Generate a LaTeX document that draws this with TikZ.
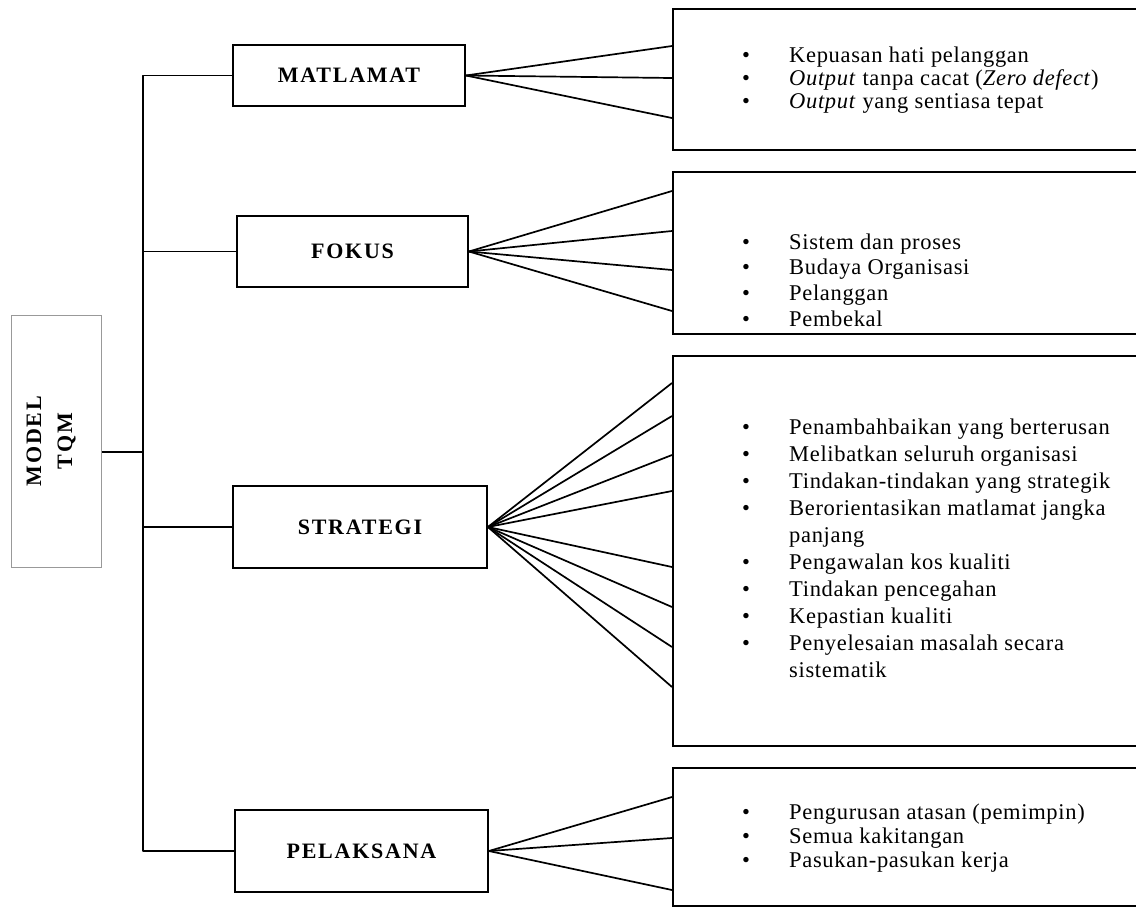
\documentclass[tikz,border=0pt]{standalone}
\usepackage{fontspec}
\setmainfont{Liberation Serif}
\newfontfamily\bodyfont[LetterSpace=3]{Liberation Serif}
\newfontfamily\labfont[LetterSpace=8]{Liberation Serif}
\newcommand\bul{\makebox[47pt][l]{\textbullet}}
\begin{document}
\begin{tikzpicture}[x=1pt,y=-1pt,
  lab/.style={draw=black, line width=1.8pt, inner sep=0pt, font=\labfont\bfseries\fontsize{22}{26}\selectfont},
  rbox/.style={draw=black, line width=1.8pt, inner sep=0pt},
  txt/.style={anchor=base west, inner sep=0pt, align=left},
  ln/.style={line width=1.7pt, line join=round}]
\useasboundingbox (0,0) rectangle (1136,906);
\clip (0,0) rectangle (1136,906);
\fill[white] (0,0) rectangle (1136,906);

% central box
\node[draw=gray!80, line width=1pt, minimum width=90pt, minimum height=252pt, inner sep=0pt] (model) at (56,441) {};
\node[rotate=90, align=center, inner sep=0pt, font=\labfont\bfseries\fontsize{22}{31}\selectfont] (modellab) at (51,441) {MODEL\\TQM};

% category boxes
\node[lab, minimum width=232pt, minimum height=61pt] (mat) at (349,75.5) {MATLAMAT};
\node[lab, minimum width=231pt, minimum height=71pt] (fok) at (352.5,251.5) {FOKUS};
\node[lab, minimum width=254pt, minimum height=82pt] (str) at (360,527) {STRATEGI};
\node[lab, minimum width=253pt, minimum height=82pt] (pel) at (361.5,851) {PELAKSANA};

% right boxes
\node[rbox, anchor=north west, minimum width=470pt, minimum height=141pt] (r1) at (672,8) {};
\node[rbox, anchor=north west, minimum width=470pt, minimum height=162pt] (r2) at (672,171) {};
\node[rbox, anchor=north west, minimum width=470pt, minimum height=390pt] (r3) at (672,355) {};
\node[rbox, anchor=north west, minimum width=470pt, minimum height=138pt] (r4) at (672,767) {};

% trunk
\coordinate (ttop) at (143,75.5);
\coordinate (tbot) at (143,851);
\coordinate (mj) at (143,452);
\draw[ln] (mat.west) -- (ttop) -- (tbot) -- (pel.west);
\draw[ln] (fok.west) -- (fok.west -| ttop);
\draw[ln] (str.west) -- (str.west -| ttop);
\draw[ln] (mj -| model.east) -- (mj);

% fans
\foreach \y [count=\i] in {46,78,118} {\coordinate (a\i) at (672,\y); \draw[ln] (mat.east) -- (a\i);}
\foreach \y [count=\i] in {191,231,270,311} {\coordinate (b\i) at (672,\y); \draw[ln] (fok.east) -- (b\i);}
\foreach \y [count=\i] in {383,416,455,491,567,607,647,687} {\coordinate (c\i) at (672,\y); \draw[ln] (str.east) -- (c\i);}
\foreach \y [count=\i] in {797,838,890} {\coordinate (d\i) at (672,\y); \draw[ln] (pel.east) -- (d\i);}

% texts
\node[txt] (t1) at (742,62) {\bodyfont\fontsize{22.5}{23}\selectfont
\begin{tabular}[t]{@{}l@{}l@{}}
\bul & Kepuasan hati pelanggan\\
\bul & \textit{Output} tanpa cacat (\textit{Zero defect})\\
\bul & \textit{Output} yang sentiasa tepat
\end{tabular}};
\node[txt] (t2) at (742,249) {\bodyfont\fontsize{22.5}{25.7}\selectfont
\begin{tabular}[t]{@{}l@{}l@{}}
\bul & Sistem dan proses\\
\bul & Budaya Organisasi\\
\bul & Pelanggan\\
\bul & Pembekal
\end{tabular}};
\node[txt] (t3) at (742,434) {\bodyfont\fontsize{22.5}{27}\selectfont
\begin{tabular}[t]{@{}l@{}l@{}}
\bul & Penambahbaikan yang berterusan\\
\bul & Melibatkan seluruh organisasi\\
\bul & Tindakan-tindakan yang strategik\\
\bul & Berorientasikan matlamat jangka\\
 & panjang\\
\bul & Pengawalan kos kualiti\\
\bul & Tindakan pencegahan\\
\bul & Kepastian kualiti\\
\bul & Penyelesaian masalah secara\\
 & sistematik
\end{tabular}};
\node[txt] (t4) at (742,819) {\bodyfont\fontsize{22.5}{24}\selectfont
\begin{tabular}[t]{@{}l@{}l@{}}
\bul & Pengurusan atasan (pemimpin)\\
\bul & Semua kakitangan\\
\bul & Pasukan-pasukan kerja
\end{tabular}};
\end{tikzpicture}
\end{document}
